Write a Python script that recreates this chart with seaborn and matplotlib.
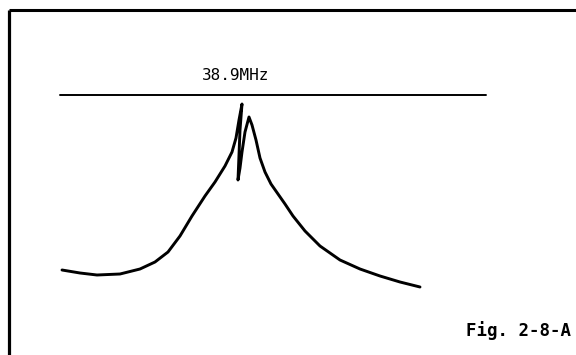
import matplotlib
matplotlib.use("Agg")
import matplotlib.pyplot as plt
import seaborn as sns
import pandas as pd

# Hand-traced response curve around the 38.9 MHz marker (sketch units, y down)
curve_x = [62, 80, 97, 120, 140, 155, 168, 180, 192, 205, 215, 225, 232, 236, 239, 242,
           240, 239, 238, 240, 242, 245, 249, 252, 256, 260, 265, 271, 278, 285, 293,
           305, 320, 340, 360, 380, 400, 420]
curve_y = [270, 273, 275, 274, 269, 262, 252, 236, 216, 196, 182, 166, 152, 138, 120, 104,
           130, 155, 180, 168, 152, 132, 117, 125, 140, 158, 172, 184, 194, 204, 216,
           231, 246, 260, 269, 276, 282, 287]
marker_label = "38.9MHz"
figure_label = "Fig. 2-8-A"

sns.set_theme(style="white")
fig = plt.figure(figsize=(5.76, 3.55), dpi=100)
ax = fig.add_axes([0, 0, 1, 1])
ax.set_xlim(0, 576)
ax.set_ylim(355, 0)
ax.axis("off")

df = pd.DataFrame({"x": curve_x, "y": curve_y})
sns.lineplot(data=df, x="x", y="y", sort=False, estimator=None, color="black",
             linewidth=2.1, ax=ax)

# frame (top and left edges)
ax.plot([9, 576], [10, 10], color="black", linewidth=2.2, solid_capstyle="butt")
ax.plot([9, 9], [10, 355], color="black", linewidth=2.3, solid_capstyle="butt")

# reference line with marker label
ax.plot([60, 486], [95, 95], color="black", linewidth=1.4)
ax.text(236, 76, marker_label, ha="center", va="center", fontsize=11.5,
        family="DejaVu Sans Mono", color="black")

ax.text(466, 331, figure_label, ha="left", va="center", fontsize=12.5,
        family="DejaVu Sans Mono", fontweight="bold", color="black")

fig.savefig("out.png", dpi=100)
